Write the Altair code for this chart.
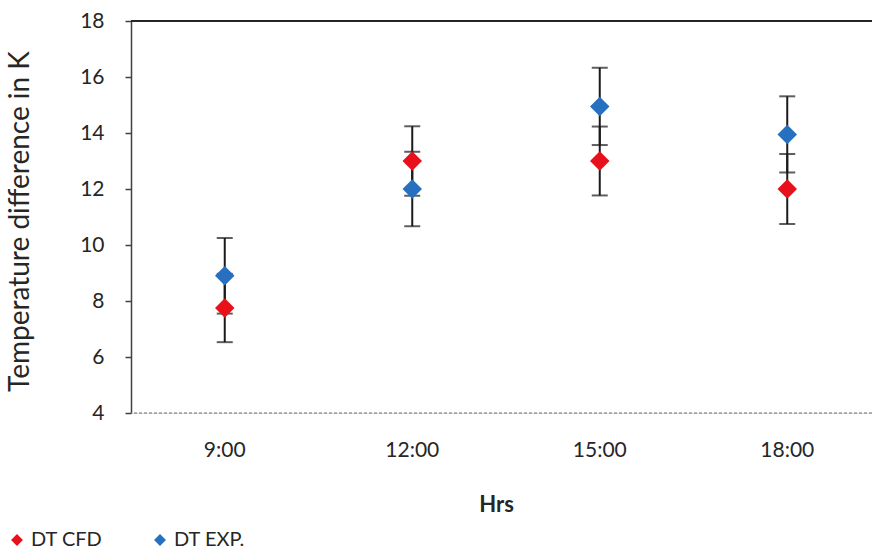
import altair as alt
import pandas as pd

hours = ["9:00", "12:00", "15:00", "18:00"]
series_names = ["DT CFD", "DT EXP."]
cfd_values = [7.75, 13.0, 13.0, 12.0]
cfd_err = [1.22, 1.24, 1.23, 1.25]
exp_values = [8.9, 12.0, 14.95, 13.95]
exp_err = [1.35, 1.33, 1.38, 1.36]
y_ticks = [4, 6, 8, 10, 12, 14, 16, 18]
colors = ["#E8101A", "#2770BF"]

rows = []
for h, v, e in zip(hours, cfd_values, cfd_err):
    rows.append({"hour": h, "series": series_names[0], "value": v, "lo": v - e, "hi": v + e})
for h, v, e in zip(hours, exp_values, exp_err):
    rows.append({"hour": h, "series": series_names[1], "value": v, "lo": v - e, "hi": v + e})
df = pd.DataFrame(rows)

FONT = "Lato"
TXT = "#262626"

xenc = alt.X("hour:N", sort=hours,
             scale=alt.Scale(range=[0, 750], paddingInner=0, paddingOuter=0),
             axis=alt.Axis(title="Hrs", titleFontWeight="bold", titleFontSize=22,
                           titleFont=FONT, titleColor=TXT, titleX=365, titleY=81,
                           labelFont=FONT, labelFontSize=21, labelColor=TXT,
                           labelPadding=26, labelAngle=0,
                           domain=False, ticks=False))
yscale = alt.Scale(domain=[4, 18], nice=False)
yaxis = alt.Axis(title="Temperature difference in K", values=y_ticks,
                 titleFont=FONT, titleFontSize=28, titleFontWeight="normal", titleColor=TXT,
                 titleX=-111, titleY=200, titleAngle=-90, titleAlign="center", titleBaseline="middle",
                 labelFont=FONT, labelFontSize=21, labelColor=TXT, labelPadding=21,
                 domain=True, domainColor="#404040", domainWidth=1.5,
                 ticks=True, tickSize=6, tickColor="#404040", tickWidth=1.5,
                 grid=False)

base = alt.Chart(df)

bars = base.mark_rule(color="#1a1a1a", strokeWidth=2).encode(
    x=xenc,
    y=alt.Y("lo:Q", scale=yscale, axis=yaxis),
    y2="hi:Q",
)
caps_lo = base.mark_tick(orient="horizontal", size=16, thickness=2, color="#1a1a1a").encode(
    x=alt.X("hour:N", sort=hours), y=alt.Y("lo:Q"))
caps_hi = base.mark_tick(orient="horizontal", size=16, thickness=2, color="#1a1a1a").encode(
    x=alt.X("hour:N", sort=hours), y=alt.Y("hi:Q"))

points = base.mark_point(shape="diamond", filled=True, size=380, opacity=1).encode(
    x=alt.X("hour:N", sort=hours),
    y=alt.Y("value:Q"),
    color=alt.Color("series:N", sort=series_names,
                    scale=alt.Scale(domain=series_names, range=colors),
                    legend=alt.Legend(title=None, orient="none", direction="horizontal",
                                      legendX=-124, legendY=509,
                                      symbolType="diamond", symbolSize=140,
                                      labelFont=FONT, labelFontSize=20, labelColor=TXT,
                                      columnPadding=47, symbolOffset=0, labelOffset=4)),
)

frame_df = pd.DataFrame({"yv": [4]})
bottom = alt.Chart(frame_df).mark_rule(color="#6f6f6f", strokeWidth=1.2, strokeDash=[3, 2]).encode(
    y=alt.Y("yv:Q", scale=yscale))
top_df = pd.DataFrame({"yv": [18]})
top = alt.Chart(top_df).mark_rule(color="#262626", strokeWidth=1.8).encode(
    y=alt.Y("yv:Q", scale=yscale))

chart = alt.layer(bottom, top, bars, caps_lo, caps_hi, points).properties(
    width=741, height=392,
    autosize=alt.AutoSizeParams(type="none"),
    padding={"left": 131, "top": 21, "right": 0, "bottom": 140},
).configure_view(stroke=None).configure(background="white")

chart.save("out.html", embed_options={"renderer": "svg", "actions": False})
